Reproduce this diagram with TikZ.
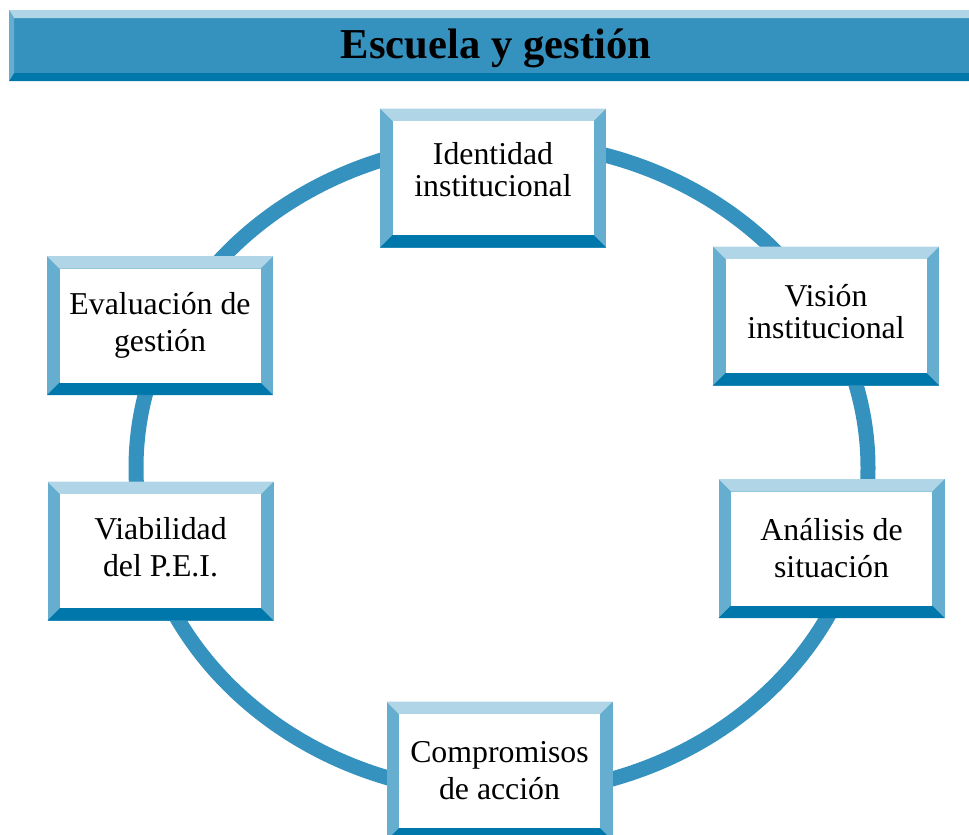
\documentclass[tikz,border=0pt]{standalone}
\usepackage{fontspec}
\setmainfont{Liberation Serif}
\definecolor{ringblue}{HTML}{3592BE}
\definecolor{bevlight}{HTML}{B0D5E6}
\definecolor{bevside}{HTML}{66AECF}
\definecolor{bevdark}{HTML}{0077AA}
\newlength{\bvw}
\setlength{\bvw}{12.5pt}
\newcommand{\liftlines}[2]{\raisebox{#1}[\height][\depth]{\begin{tabular}{@{}c@{}}#2\end{tabular}}}
\tikzset{
  bevelbox/.style={
    minimum width=226pt, minimum height=139pt, inner sep=0pt,
    align=center, fill=bevside, text=black,
    font=\fontsize{31.8}{#1}\selectfont,
    path picture={
      \coordinate (pnw) at (path picture bounding box.north west);
      \coordinate (pne) at (path picture bounding box.north east);
      \coordinate (psw) at (path picture bounding box.south west);
      \coordinate (pse) at (path picture bounding box.south east);
      \fill[bevlight] (pnw) -- (pne) -- ([shift={(-\bvw,-\bvw)}]pne) -- ([shift={(\bvw,-\bvw)}]pnw) -- cycle;
      \fill[bevdark] (psw) -- (pse) -- ([shift={(-\bvw,\bvw)}]pse) -- ([shift={(\bvw,\bvw)}]psw) -- cycle;
      \fill[white] ([shift={(\bvw,-\bvw)}]pnw) rectangle ([shift={(-\bvw,\bvw)}]pse);
    }
  },
  bevelbox/.default=37,
  ring/.style={draw=ringblue, line width=15pt},
  titletext/.style={font=\fontsize{42.6}{46}\selectfont\bfseries, text=black, inner sep=0pt}
}
\begin{document}
\begin{tikzpicture}[x=1pt,y=-1pt]
\clip (0,0) rectangle (969,835);
\fill[white] (0,0) rectangle (969,835);
% title bar
\fill[ringblue] (9,10) rectangle (969,81);
\fill[bevlight] (9,10) -- (969,10) -- (969,18) -- (14,18) -- cycle;
\fill[bevdark] (9,81) -- (969,81) -- (969,73) -- (14,73) -- cycle;
\fill[bevside] (9,10) -- (14,18) -- (14,73) -- (9,81) -- cycle;
\node[titletext] (title) at (496,48) {Escuela y gestión};
% ring
\path[ring] (502,468) ellipse [x radius=366pt, y radius=326pt];
% boxes
\node[bevelbox=32] (identidad) at (493,178) {\liftlines{3.5pt}{Identidad\\institucional}};
\node[bevelbox=32] (vision) at (826,316) {\liftlines{0pt}{Visión\\institucional}};
\node[bevelbox] (analisis) at (831.5,548.5) {Análisis de\\situación};
\node[bevelbox] (compromisos) at (499.5,771) {Compromisos\\de acción};
\node[bevelbox] (viabilidad) at (160.5,551) {\liftlines{0pt}{Viabilidad\\del P.E.I.}};
\node[bevelbox] (evaluacion) at (160,325.5) {Evaluación de\\gestión};
\end{tikzpicture}
\end{document}
